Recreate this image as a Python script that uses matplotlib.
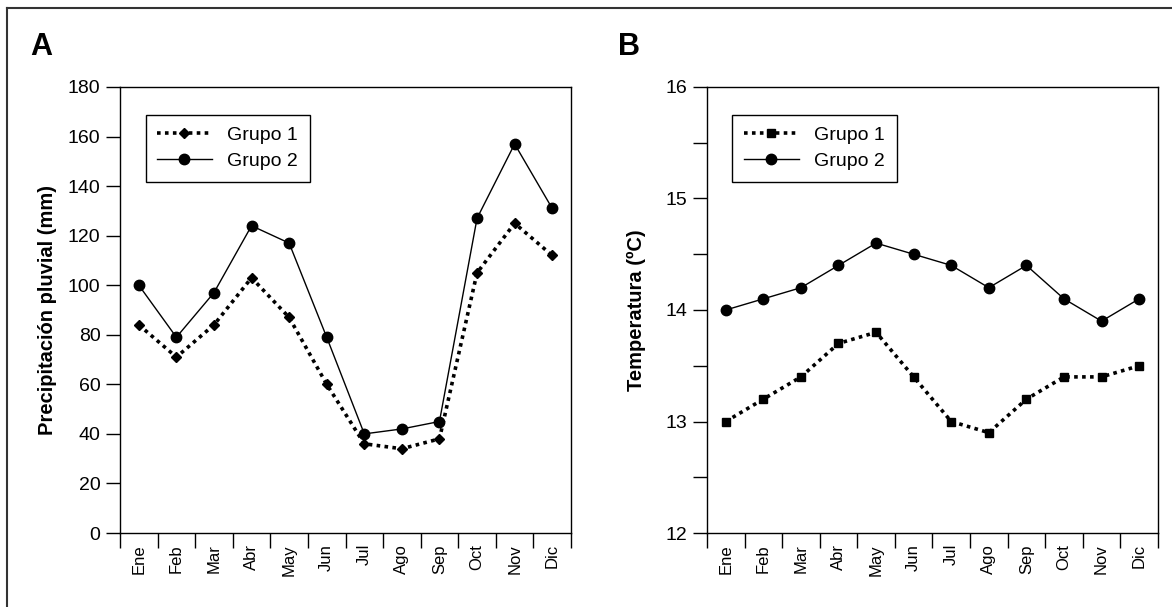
import numpy as np
import matplotlib.pyplot as plt
from matplotlib.lines import Line2D

meses = ['Ene', 'Feb', 'Mar', 'Abr', 'May', 'Jun', 'Jul', 'Ago', 'Sep', 'Oct', 'Nov', 'Dic']

# Panel A - precipitacion (mm)
precip_g1 = [84, 71, 84, 103, 87, 60, 36, 34, 38, 105, 125, 112]
precip_g2 = [100, 79, 97, 124, 117, 79, 40, 42, 45, 127, 157, 131]

# Panel B - temperatura (ºC)
temp_g1 = [13.0, 13.2, 13.4, 13.7, 13.8, 13.4, 13.0, 12.9, 13.2, 13.4, 13.4, 13.5]
temp_g2 = [14.0, 14.1, 14.2, 14.4, 14.6, 14.5, 14.4, 14.2, 14.4, 14.1, 13.9, 14.1]

plt.rcParams['font.family'] = ['Liberation Sans', 'DejaVu Sans']

fig = plt.figure(figsize=(11.72, 6.07), dpi=100)
# marco exterior (solo arriba e izquierda visibles)
fig.lines.append(Line2D([0.006, 1.0], [0.987, 0.987], transform=fig.transFigure,
                        color='#333333', linewidth=1.5))
fig.lines.append(Line2D([0.006, 0.006], [0.0, 0.987], transform=fig.transFigure,
                        color='#333333', linewidth=1.5))

axA = fig.add_axes([0.1024, 0.1219, 0.3848, 0.7348])
axB = fig.add_axes([0.6032, 0.1219, 0.3848, 0.7348])

x = np.arange(len(meses)) + 0.5


def style_axis(ax, g1, g2, marker1, ms1):
    ax.plot(x, g1, color='black', linestyle=(0, (1, 1.2)), linewidth=2.6,
            marker=marker1, markersize=ms1, label='Grupo 1')
    ax.plot(x, g2, color='black', linestyle='-', linewidth=1.0,
            marker='o', markersize=7.5, label='Grupo 2')
    ax.set_xlim(0, len(meses))
    ax.set_xticks(np.arange(len(meses) + 1))
    ax.set_xticklabels([])
    ax.set_xticks(x, minor=True)
    ax.set_xticklabels(meses, minor=True, rotation=90, fontsize=12)
    ax.tick_params(axis='x', which='major', direction='out', length=11, width=1)
    ax.tick_params(axis='x', which='minor', length=0, pad=8)
    ax.tick_params(axis='y', direction='out', length=10, width=1, labelsize=14, pad=4)
    for sp in ax.spines.values():
        sp.set_linewidth(1.0)
    leg = ax.legend(loc='upper left', bbox_to_anchor=(0.035, 0.96), fancybox=False,
                    edgecolor='black', framealpha=1, handlelength=2.8,
                    prop={'size': 14}, borderpad=0.6, labelspacing=0.45)
    leg.get_frame().set_linewidth(1.0)


style_axis(axA, precip_g1, precip_g2, 'D', 5)
axA.set_ylim(0, 180)
axA.set_yticks(np.arange(0, 181, 20))
axA.set_ylabel('Precipitación pluvial (mm)', fontsize=14.5, fontweight='bold', labelpad=8)

style_axis(axB, temp_g1, temp_g2, 's', 5.5)
axB.set_ylim(12, 16)
axB.set_yticks(np.arange(12, 16.01, 0.5))
axB.set_yticklabels(['12', '', '13', '', '14', '', '15', '', '16'])
axB.set_ylabel('Temperatura (ºC)', fontsize=14.5, fontweight='bold', labelpad=14)

fig.text(0.026, 0.910, 'A', fontsize=22, fontweight='bold')
fig.text(0.527, 0.910, 'B', fontsize=22, fontweight='bold')

fig.savefig('out.png', dpi=100)
